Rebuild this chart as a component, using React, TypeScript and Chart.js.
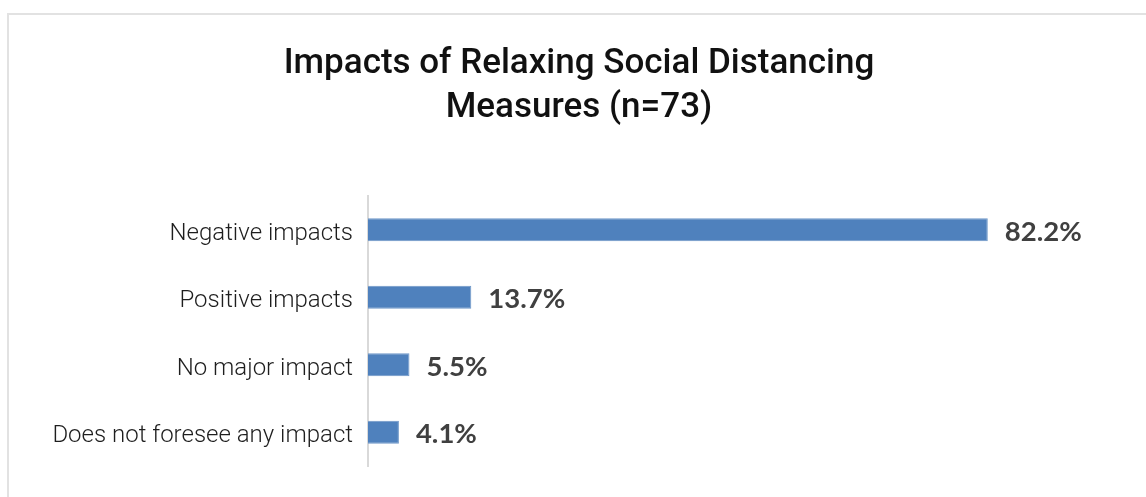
import React, { useEffect, useRef } from "react";
import { Chart, registerables } from "chart.js";

Chart.register(...registerables);

const categories = [
  "Negative impacts",
  "Positive impacts",
  "No major impact",
  "Does not foresee any impact",
];
const values = [82.2, 13.7, 5.5, 4.1];
const valueLabels = ["82.2%", "13.7%", "5.5%", "4.1%"];
const titleLines = ["Impacts of Relaxing Social Distancing", "Measures (n=73)"];

const titlePlugin = {
  id: "customTitle",
  afterDraw(chart: any) {
    const ctx = chart.ctx;
    ctx.save();
    ctx.fillStyle = "#111111";
    ctx.font = "500 35px Roboto";
    ctx.textAlign = "center";
    ctx.textBaseline = "alphabetic";
    ctx.fillText(titleLines[0], 579, 73);
    ctx.fillText(titleLines[1], 579, 117);
    ctx.restore();
  },
};

const valueLabelPlugin = {
  id: "valueLabels",
  afterDatasetsDraw(chart: any) {
    const ctx = chart.ctx;
    const meta = chart.getDatasetMeta(0);
    ctx.save();
    ctx.fillStyle = "#404040";
    ctx.font = "bold 27.5px Lato, 'Open Sans', sans-serif";
    ctx.textAlign = "left";
    ctx.textBaseline = "middle";
    meta.data.forEach((bar: any, i: number) => {
      ctx.fillText(valueLabels[i], bar.x + 17, bar.y + 2);
    });
    ctx.restore();
  },
};

export default function App() {
  const canvasRef = useRef<HTMLCanvasElement | null>(null);

  useEffect(() => {
    const canvas = canvasRef.current;
    if (!canvas) return;
    const chart = new Chart(canvas, {
      type: "bar",
      data: {
        labels: categories,
        datasets: [
          {
            data: values,
            backgroundColor: "#4F81BD",
            borderColor: "#6E97C8",
            borderWidth: 1,
            barPercentage: 0.34,
            categoryPercentage: 1,
          },
        ],
      },
      options: {
        indexAxis: "y",
        animation: false,
        responsive: false,
        maintainAspectRatio: false,
        layout: { padding: { top: 196, bottom: 31, left: 0, right: 24 } },
        plugins: {
          legend: { display: false },
          title: { display: false },
          tooltip: { enabled: false },
        },
        scales: {
          x: {
            min: 0,
            max: 100,
            display: false,
            grid: { display: false },
          },
          y: {
            grid: { display: false, drawTicks: false },
            border: { display: true, color: "#d9d9d9", width: 2 },
            ticks: {
              color: "#1e1e1e",
              padding: 15,
              labelOffset: 4,
              font: { family: "Roboto", size: 24, weight: 300 },
            },
            afterFit: (scale: any) => {
              scale.width = 368;
            },
          },
        },
      },
      plugins: [titlePlugin, valueLabelPlugin],
    });
    return () => chart.destroy();
  }, []);

  return (
    <div
      style={{
        position: "fixed",
        left: 0,
        top: 0,
        width: 1146,
        height: 497,
        overflow: "hidden",
        background: "#ffffff",
      }}
    >
      <div
        style={{
          position: "absolute",
          left: 7,
          top: 13,
          width: 1160,
          height: 520,
          border: "2px solid #e2e2e2",
          boxSizing: "border-box",
        }}
      />
      <canvas
        ref={canvasRef}
        width={1146}
        height={497}
        style={{ position: "absolute", left: 0, top: 0, width: 1146, height: 497 }}
      />
    </div>
  );
}
